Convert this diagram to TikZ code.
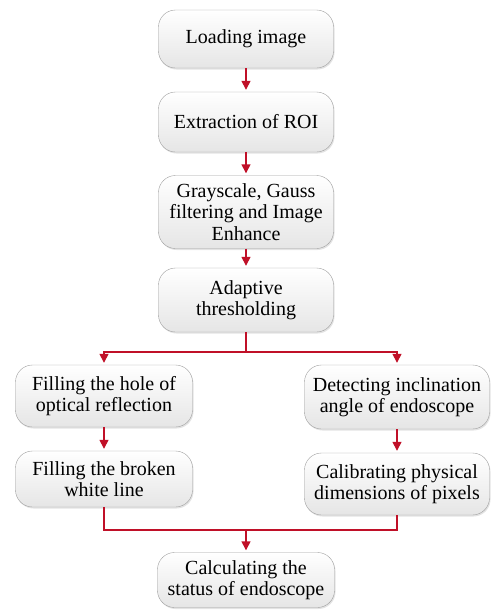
\documentclass[tikz,border=0pt]{standalone}
\usepackage{fontspec}
\setmainfont{Liberation Serif}
\usetikzlibrary{arrows.meta,positioning,shadows}
\definecolor{arrowred}{RGB}{192,16,40}

\begin{document}
\begin{tikzpicture}[x=1pt,y=-1pt,
  box/.style={draw=gray!75, rounded corners=17pt, top color=white, bottom color=gray!20,
    align=center, inner sep=2pt, font=\fontsize{20}{21.5}\selectfont,
    drop shadow={opacity=0.22,shadow xshift=1pt,shadow yshift=-1.5pt}},
  link/.style={draw=arrowred, line width=1.4pt},
  flow/.style={link, shorten >=2pt, -{Triangle[width=9pt,length=9pt]}}]

  \useasboundingbox (0,0) rectangle (493,611);

  % main column
  \node[box, minimum width=175, minimum height=58] (load) at (246,39) {Loading image};
  \node[box, minimum width=175, minimum height=60] (roi) at (246,122) {Extraction of ROI};
  \node[box, minimum width=175, minimum height=73] (gray) at (246,212)
    {Grayscale, Gauss\\filtering and Image\\Enhance};
  \node[box, minimum width=175, minimum height=64] (thresh) at (246,300)
    {Adaptive\\thresholding};

  % two branches
  \node[box, minimum width=177, minimum height=62] (hole) at (104,396)
    {Filling the hole of\\optical reflection};
  \node[box, minimum width=185, minimum height=64] (incl) at (397,397)
    {Detecting inclination\\angle of endoscope};
  \node[box, minimum width=177, minimum height=56] (broken) at (104,479)
    {Filling the broken\\white line};
  \node[box, minimum width=185, minimum height=62] (calib) at (397,484)
    {Calibrating physical\\dimensions of pixels};

  % result
  \node[box, minimum width=177, minimum height=55] (status) at (246,580)
    {Calculating the\\status of endoscope};

  \coordinate (fork) at (246,352);
  \coordinate (join) at (246,530);

  \draw[flow] (load) -- (roi);
  \draw[flow] (roi) -- (gray);
  \draw[flow] (gray) -- (thresh);
  \draw[link] (thresh) -- (fork);
  \draw[flow] (fork) -| (hole);
  \draw[flow] (fork) -| (incl);
  \draw[flow] (hole) -- (broken);
  \draw[flow] (incl) -- (calib);
  \draw[link] (broken.south) |- (join) -| (calib.south);
  \draw[flow] (join) -- (status);

\end{tikzpicture}
\end{document}
